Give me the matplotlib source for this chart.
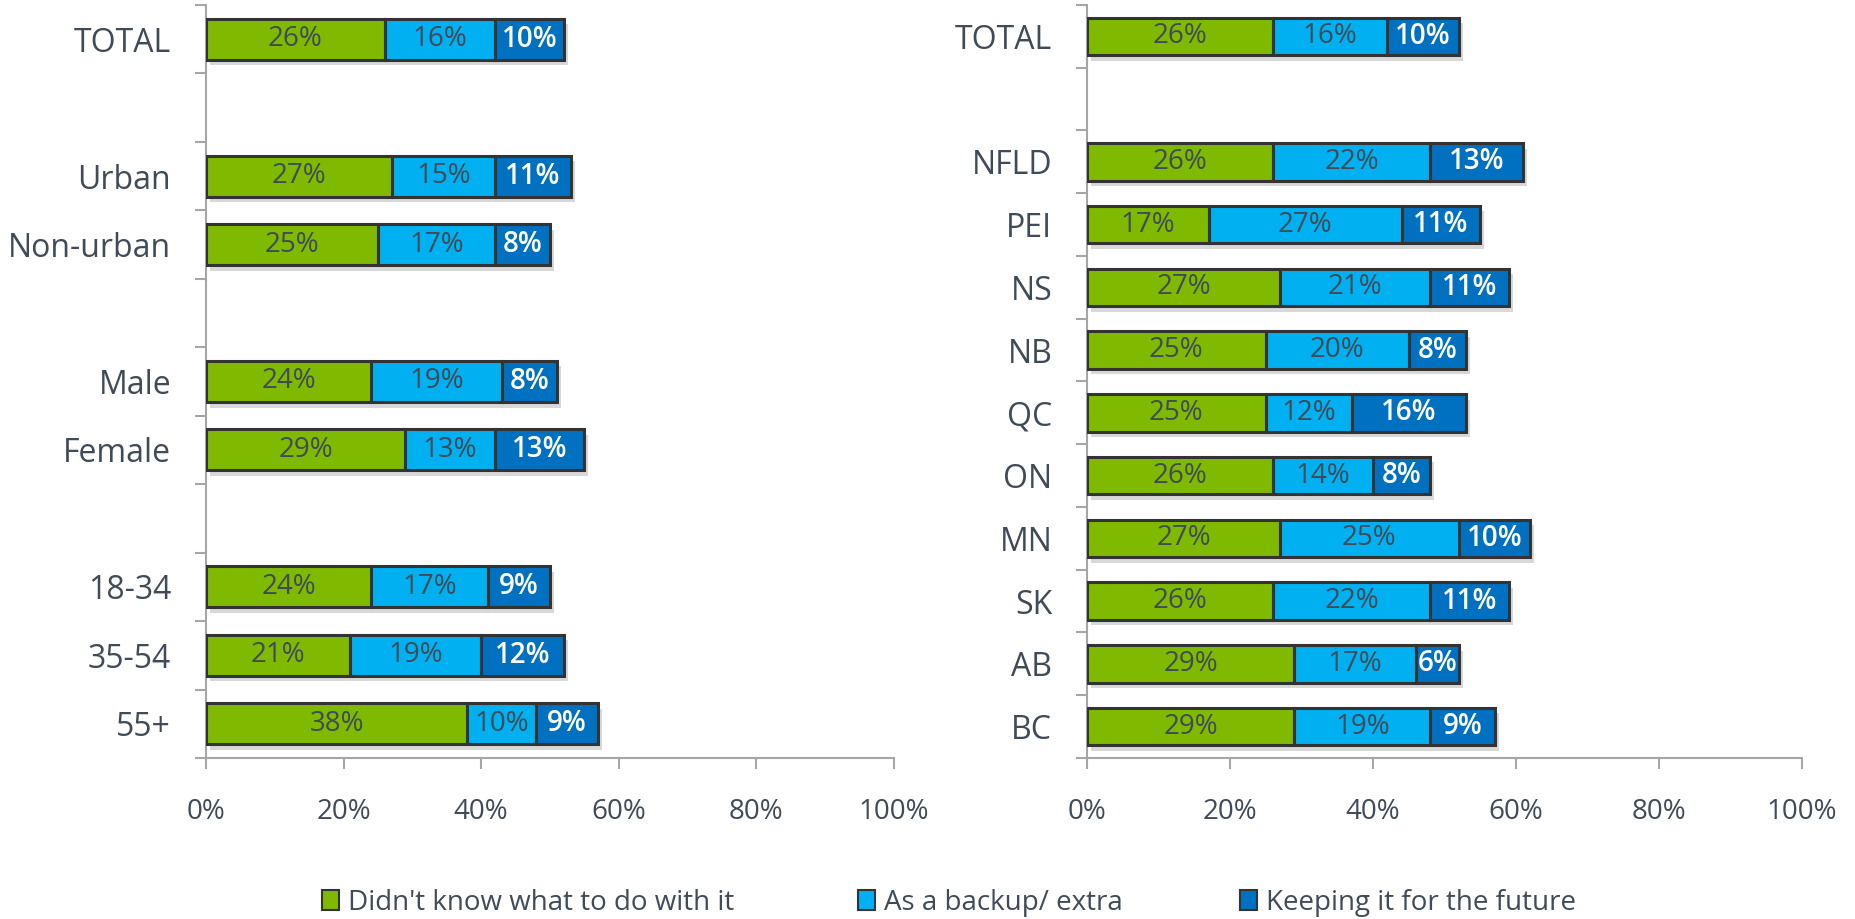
import matplotlib
matplotlib.use("Agg")
import matplotlib.pyplot as plt
import matplotlib.patheffects as pe
from matplotlib.patches import Patch
import numpy as np

plt.rcParams['font.family'] = ['Open Sans', 'DejaVu Sans']

series_names = ["Didn't know what to do with it", "As a backup/ extra", "Keeping it for the future"]
colors = ["#7FBA00", "#00B0F0", "#0070C0"]

# None marks an empty spacer row
left_labels = ["TOTAL", None, "Urban", "Non-urban", None, "Male", "Female", None, "18-34", "35-54", "55+"]
left_didnt = [26, 27, 25, 24, 29, 24, 21, 38]
left_backup = [16, 15, 17, 19, 13, 17, 19, 10]
left_future = [10, 11, 8, 8, 13, 9, 12, 9]

right_labels = ["TOTAL", None, "NFLD", "PEI", "NS", "NB", "QC", "ON", "MN", "SK", "AB", "BC"]
right_didnt = [26, 26, 17, 27, 25, 25, 26, 27, 26, 29, 29]
right_backup = [16, 22, 27, 21, 20, 12, 14, 25, 22, 17, 19]
right_future = [10, 13, 11, 11, 8, 16, 8, 10, 11, 6, 9]

xticks = [0, 20, 40, 60, 80, 100]
xticklabels = ["0%", "20%", "40%", "60%", "80%", "100%"]

TEXT = "#3F4B57"
AXC = "#A6A6A6"

fig = plt.figure(figsize=(18.55, 9.19), dpi=100)
axL = fig.add_axes([0.1110, 0.1752, 0.3709, 0.8194])
axR = fig.add_axes([0.5860, 0.1752, 0.3854, 0.8194])

shadow = [pe.SimplePatchShadow(offset=(3, -4), shadow_rgbFace="#808080", alpha=0.3), pe.Normal()]


def draw(ax, labels, vals):
    n = len(labels)
    pos = [i for i, l in enumerate(labels) if l is not None]
    names = [l for l in labels if l is not None]
    left = np.zeros(len(pos))
    for k, (v, c) in enumerate(zip(vals, colors)):
        v = np.array(v, dtype=float)
        bars = ax.barh(pos, v, left=left, height=0.6, color=c, edgecolor="#333333", linewidth=2.2, zorder=3)
        for b in bars:
            b.set_path_effects(shadow)
        for y, l0, w in zip(pos, left, v):
            if k == 2:
                ax.text(l0 + w / 2, y, f"{int(w)}%", ha="center", va="center", color="white",
                        fontsize=20, fontweight="semibold", zorder=5)
            else:
                ax.text(l0 + w / 2, y, f"{int(w)}%", ha="center", va="center", color=TEXT,
                        fontsize=20, zorder=5)
        left = left + v
    ax.set_xlim(0, 100)
    ax.set_ylim(n - 0.5, -0.5)
    ax.set_yticks(pos)
    ax.set_yticklabels(names, fontsize=23, color=TEXT)
    ax.set_yticks(np.arange(-0.5, n, 1.0), minor=True)
    ax.tick_params(axis="y", which="major", length=0, pad=25)
    ax.tick_params(axis="y", which="minor", length=8, width=1.5, color=AXC)
    ax.set_xticks(xticks)
    ax.set_xticklabels(xticklabels, fontsize=20, color=TEXT)
    ax.tick_params(axis="x", which="major", length=8, width=1.5, color=AXC, pad=21)
    for s in ["top", "right"]:
        ax.spines[s].set_visible(False)
    for s in ["left", "bottom"]:
        ax.spines[s].set_color(AXC)
        ax.spines[s].set_linewidth(1.5)


draw(axL, left_labels, [left_didnt, left_backup, left_future])
draw(axR, right_labels, [right_didnt, right_backup, right_future])

legend_x = [322 / 1855, 858 / 1855, 1240 / 1855]
for name, c, x in zip(series_names, colors, legend_x):
    h = Patch(facecolor=c, edgecolor="#333333", linewidth=1.5)
    lg = fig.legend([h], [name], loc="center left", bbox_to_anchor=(x, 0.0174), frameon=False,
                    fontsize=20, handlelength=0.62, handleheight=0.75, handletextpad=0.3,
                    borderpad=0, borderaxespad=0, labelcolor=TEXT)

fig.savefig("out.png", dpi=100)
